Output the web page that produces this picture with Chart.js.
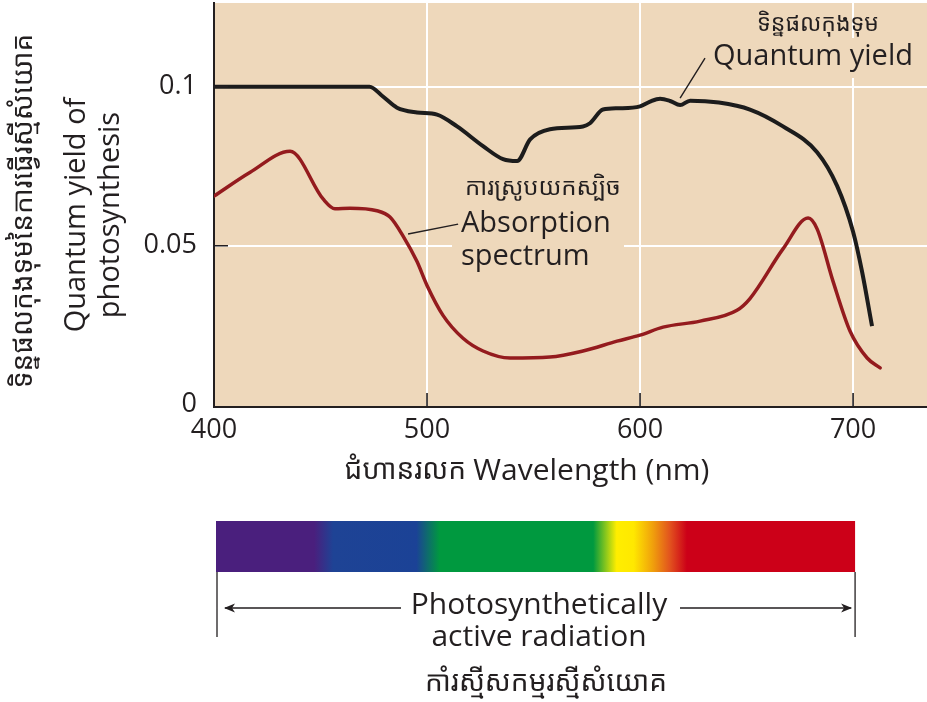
<!DOCTYPE html>
<html>
<head>
<meta charset="utf-8">
<script src="https://cdn.jsdelivr.net/npm/chart.js@4.4.0/dist/chart.umd.min.js"></script>
<style>
html,body{margin:0;padding:0;background:#ffffff;}
#wrap{width:927px;height:702px;position:relative;}
</style>
</head>
<body>
<div id="wrap"><canvas id="c" width="927" height="702"></canvas></div>
<script>
// ---------- data ----------
const qyWavelength = [400, 420, 440, 460, 473, 479.3, 485.9, 495.3, 504.7, 514.1, 526.3, 535.7, 542.3, 548.4, 557.7, 573.2, 576.5, 582.6, 590, 600, 604.7, 609.4, 614.1, 618.8, 623.5, 637, 651.6, 667.1, 683.1, 692.5, 700, 704.2, 708.9];
const quantumYield = [0.1, 0.1, 0.1, 0.1, 0.1, 0.0969, 0.0934, 0.0919, 0.0912, 0.0875, 0.0813, 0.0772, 0.0766, 0.0834, 0.0866, 0.0875, 0.0885, 0.0928, 0.0932, 0.0938, 0.0953, 0.0962, 0.0955, 0.0942, 0.0956, 0.0950, 0.0928, 0.0875, 0.0794, 0.0688, 0.0544, 0.0419, 0.0247];

const absWavelength = [400, 417, 435.7, 451.2, 456.8, 463.8, 476.5, 482.6, 488.7, 495.3, 500, 507.5, 516.9, 526.3, 539, 557.7, 573.2, 589.2, 600, 610.8, 628.2, 645.5, 651.6, 667.1, 678.9, 683.1, 690.6, 698.6, 706.6, 712.7];
const absorption = [0.0656, 0.0731, 0.0797, 0.0647, 0.0616, 0.0618, 0.061, 0.059, 0.0531, 0.045, 0.0375, 0.0281, 0.0209, 0.0169, 0.0147, 0.0150, 0.0169, 0.02, 0.0219, 0.0244, 0.0263, 0.0297, 0.0334, 0.049, 0.0587, 0.0553, 0.0388, 0.0231, 0.0147, 0.0116];

const xTicks = [400, 500, 600, 700];
const xTickLabels = ['400', '500', '600', '700'];
const yTicks = [0, 0.05, 0.1];
const yTickLabels = ['0', '0.05', '0.1'];

// spectrum colour stops (wavelength nm -> colour)
const spectrumNm = [400, 447, 456, 495, 506, 578, 589, 597, 606, 614, 622, 700];
const spectrumColors = ['#4a1f7d', '#4a1f7d', '#1e4395', '#1b4296', '#00993f', '#00993f', '#ffee00', '#ffe800', '#f0a00c', '#e2531e', '#cc0018', '#cc0018'];

// ---------- styles ----------
const FONT = "'Open Sans', 'Noto Sans', sans-serif";
const KFONT = "'Noto Sans Khmer', 'Khmer OS', 'Khmer OS System', 'Noto Sans', sans-serif";
const BG = '#eed8bb';
const INK = '#231f20';

const overlay = {
  id: 'overlay',
  beforeDraw(chart) {
    const {ctx, chartArea: a} = chart;
    ctx.save();
    ctx.fillStyle = BG;
    ctx.fillRect(a.left, a.top, a.right - a.left, a.bottom - a.top);
    ctx.restore();
  },
  beforeDatasetsDraw(chart) {
    const {ctx} = chart;
    ctx.save();
    // background boxes behind labels (they interrupt the grid lines)
    ctx.fillStyle = BG;
    ctx.fillRect(706, 38, 212, 40);
    ctx.fillRect(452, 172, 172, 106);
    ctx.restore();
  },
  afterDraw(chart) {
    const {ctx, chartArea: a, scales} = chart;
    const xs = scales.x, ys = scales.y;
    ctx.save();
    // inward tick marks
    ctx.strokeStyle = INK;
    ctx.lineWidth = 1.6;
    ctx.beginPath();
    xTicks.forEach(v => {
      if (v === xs.min) return;
      const px = xs.getPixelForValue(v);
      ctx.moveTo(px, a.bottom); ctx.lineTo(px, a.bottom - 14);
    });
    yTicks.forEach(v => {
      if (v === 0) return;
      const py = ys.getPixelForValue(v);
      ctx.moveTo(a.left, py); ctx.lineTo(a.left + 14, py);
    });
    ctx.stroke();

    // leader lines
    ctx.lineWidth = 1.4;
    ctx.strokeStyle = INK;
    ctx.beginPath();
    ctx.moveTo(xs.getPixelForValue(618.8), ys.getPixelForValue(0.0964));
    ctx.lineTo(xs.getPixelForValue(630.5), ys.getPixelForValue(0.109));
    ctx.moveTo(xs.getPixelForValue(491.1), ys.getPixelForValue(0.0537));
    ctx.lineTo(xs.getPixelForValue(514.6), ys.getPixelForValue(0.0568));
    ctx.stroke();

    // in-plot labels
    ctx.fillStyle = INK;
    ctx.textBaseline = 'middle';
    ctx.textAlign = 'center';
    ctx.font = `23px ${KFONT}`;
    ctx.fillText('ទិន្នផលកុងទុម', 818, 24);
    ctx.textAlign = 'left';
    ctx.font = `29px ${FONT}`;
    ctx.fillText('Quantum yield', 713, 57);
    ctx.font = `24px ${KFONT}`;
    ctx.fillText('ការស្រូបយកស្បិច', 465, 188);
    ctx.font = `29px ${FONT}`;
    ctx.fillText('Absorption', 461, 224);
    ctx.fillText('spectrum', 461, 257);

    // x axis title
    ctx.textAlign = 'left';
    const k1 = 'ជំហានរលក ';
    const eng = 'Wavelength (nm)';
    ctx.font = `30px ${FONT}`;
    const wEng = ctx.measureText(eng).width;
    ctx.font = `28px ${KFONT}`;
    const wK = ctx.measureText(k1).width;
    const startX = 527 - (wEng + wK) / 2;
    ctx.fillText(k1, startX, 471);
    ctx.font = `30px ${FONT}`;
    ctx.fillText(eng, startX + wK, 471);

    // y axis titles (rotated)
    ctx.save();
    ctx.translate(77, 215);
    ctx.rotate(-Math.PI / 2);
    ctx.textAlign = 'center';
    ctx.font = `29px ${FONT}`;
    ctx.fillText('Quantum yield of', 0, 0);
    ctx.fillText('photosynthesis', 0, 34);
    ctx.restore();
    ctx.save();
    ctx.translate(24, 211);
    ctx.rotate(-Math.PI / 2);
    ctx.textAlign = 'center';
    ctx.font = `28px ${KFONT}`;
    ctx.fillText('ទិន្នផលកុងទុមនៃការធ្វើរស្មីសំយោគ', 0, 0);
    ctx.restore();

    // spectrum bar
    const x0 = xs.getPixelForValue(spectrumNm[0]);
    const x1 = xs.getPixelForValue(spectrumNm[spectrumNm.length - 1]);
    const g = ctx.createLinearGradient(x0, 0, x1, 0);
    spectrumNm.forEach((nm, i) => g.addColorStop((nm - spectrumNm[0]) / (spectrumNm[spectrumNm.length - 1] - spectrumNm[0]), spectrumColors[i]));
    ctx.fillStyle = g;
    ctx.fillRect(x0 + 2, 521, x1 - x0, 51);

    // PAR bracket
    const bl = x0 + 3, br = x1 + 2;
    ctx.strokeStyle = INK;
    ctx.lineWidth = 1.3;
    ctx.beginPath();
    ctx.moveTo(bl, 572); ctx.lineTo(bl, 637);
    ctx.moveTo(br, 572); ctx.lineTo(br, 637);
    ctx.moveTo(bl + 8, 608); ctx.lineTo(401, 608);
    ctx.moveTo(680, 608); ctx.lineTo(br - 4, 608);
    ctx.stroke();
    ctx.fillStyle = INK;
    ctx.beginPath();
    ctx.moveTo(bl + 7, 608); ctx.lineTo(bl + 18, 603.5); ctx.lineTo(bl + 15, 608); ctx.lineTo(bl + 18, 612.5); ctx.closePath();
    ctx.fill();
    ctx.beginPath();
    ctx.moveTo(br - 3, 608); ctx.lineTo(br - 14, 603.5); ctx.lineTo(br - 11, 608); ctx.lineTo(br - 14, 612.5); ctx.closePath();
    ctx.fill();

    ctx.textAlign = 'center';
    ctx.font = `30px ${FONT}`;
    ctx.fillText('Photosynthetically', 539, 605);
    ctx.fillText('active radiation', 539, 637);
    ctx.font = `28px ${KFONT}`;
    ctx.fillText('កាំរស្មីសកម្មរស្មីសំយោគ', 546, 683);
    ctx.restore();
  }
};

const ctx = document.getElementById('c').getContext('2d');
new Chart(ctx, {
  type: 'scatter',
  data: {
    datasets: [
      {
        label: 'Quantum yield',
        data: qyWavelength.map((x, i) => ({x, y: quantumYield[i]})),
        showLine: true,
        borderColor: '#1c1c1c',
        borderWidth: 4,
        pointRadius: 0,
        cubicInterpolationMode: 'monotone',
        fill: false,
        borderCapStyle: 'butt'
      },
      {
        label: 'Absorption spectrum',
        data: absWavelength.map((x, i) => ({x, y: absorption[i]})),
        showLine: true,
        borderColor: '#941b1e',
        borderWidth: 3.5,
        pointRadius: 0,
        cubicInterpolationMode: 'monotone',
        fill: false,
        borderCapStyle: 'round'
      }
    ]
  },
  options: {
    responsive: false,
    animation: false,
    events: [],
    layout: {padding: {left: 0, top: 3, right: 0, bottom: 0}},
    plugins: {legend: {display: false}, tooltip: {enabled: false}},
    scales: {
      x: {
        type: 'linear',
        min: 400,
        max: 734.7,
        afterBuildTicks: s => { s.ticks = xTicks.map(v => ({value: v})); },
        afterFit: s => { s.height = 295; s.paddingLeft = 0; s.paddingRight = 0; },
        grid: {
          color: c => (c.tick && c.tick.value === 400) ? 'rgba(0,0,0,0)' : '#ffffff',
          lineWidth: 2,
          drawTicks: false
        },
        border: {color: INK, width: 2},
        ticks: {
          font: {family: FONT, size: 27},
          color: INK,
          padding: 7,
          maxRotation: 0,
          autoSkip: false,
          callback: v => xTickLabels[xTicks.indexOf(v)]
        }
      },
      y: {
        type: 'linear',
        min: -0.0007,
        max: 0.1263,
        afterBuildTicks: s => { s.ticks = yTicks.map(v => ({value: v})); },
        afterFit: s => { s.width = 214; s.paddingTop = 0; s.paddingBottom = 0; },
        grid: {
          color: c => (c.tick && c.tick.value === 0) ? 'rgba(0,0,0,0)' : '#ffffff',
          lineWidth: 2,
          drawTicks: false
        },
        border: {color: INK, width: 2},
        ticks: {
          font: {family: FONT, size: 27},
          color: INK,
          padding: 17,
          autoSkip: false,
          callback: v => yTickLabels[yTicks.indexOf(v)]
        }
      }
    }
  },
  plugins: [overlay]
});
</script>
</body>
</html>
